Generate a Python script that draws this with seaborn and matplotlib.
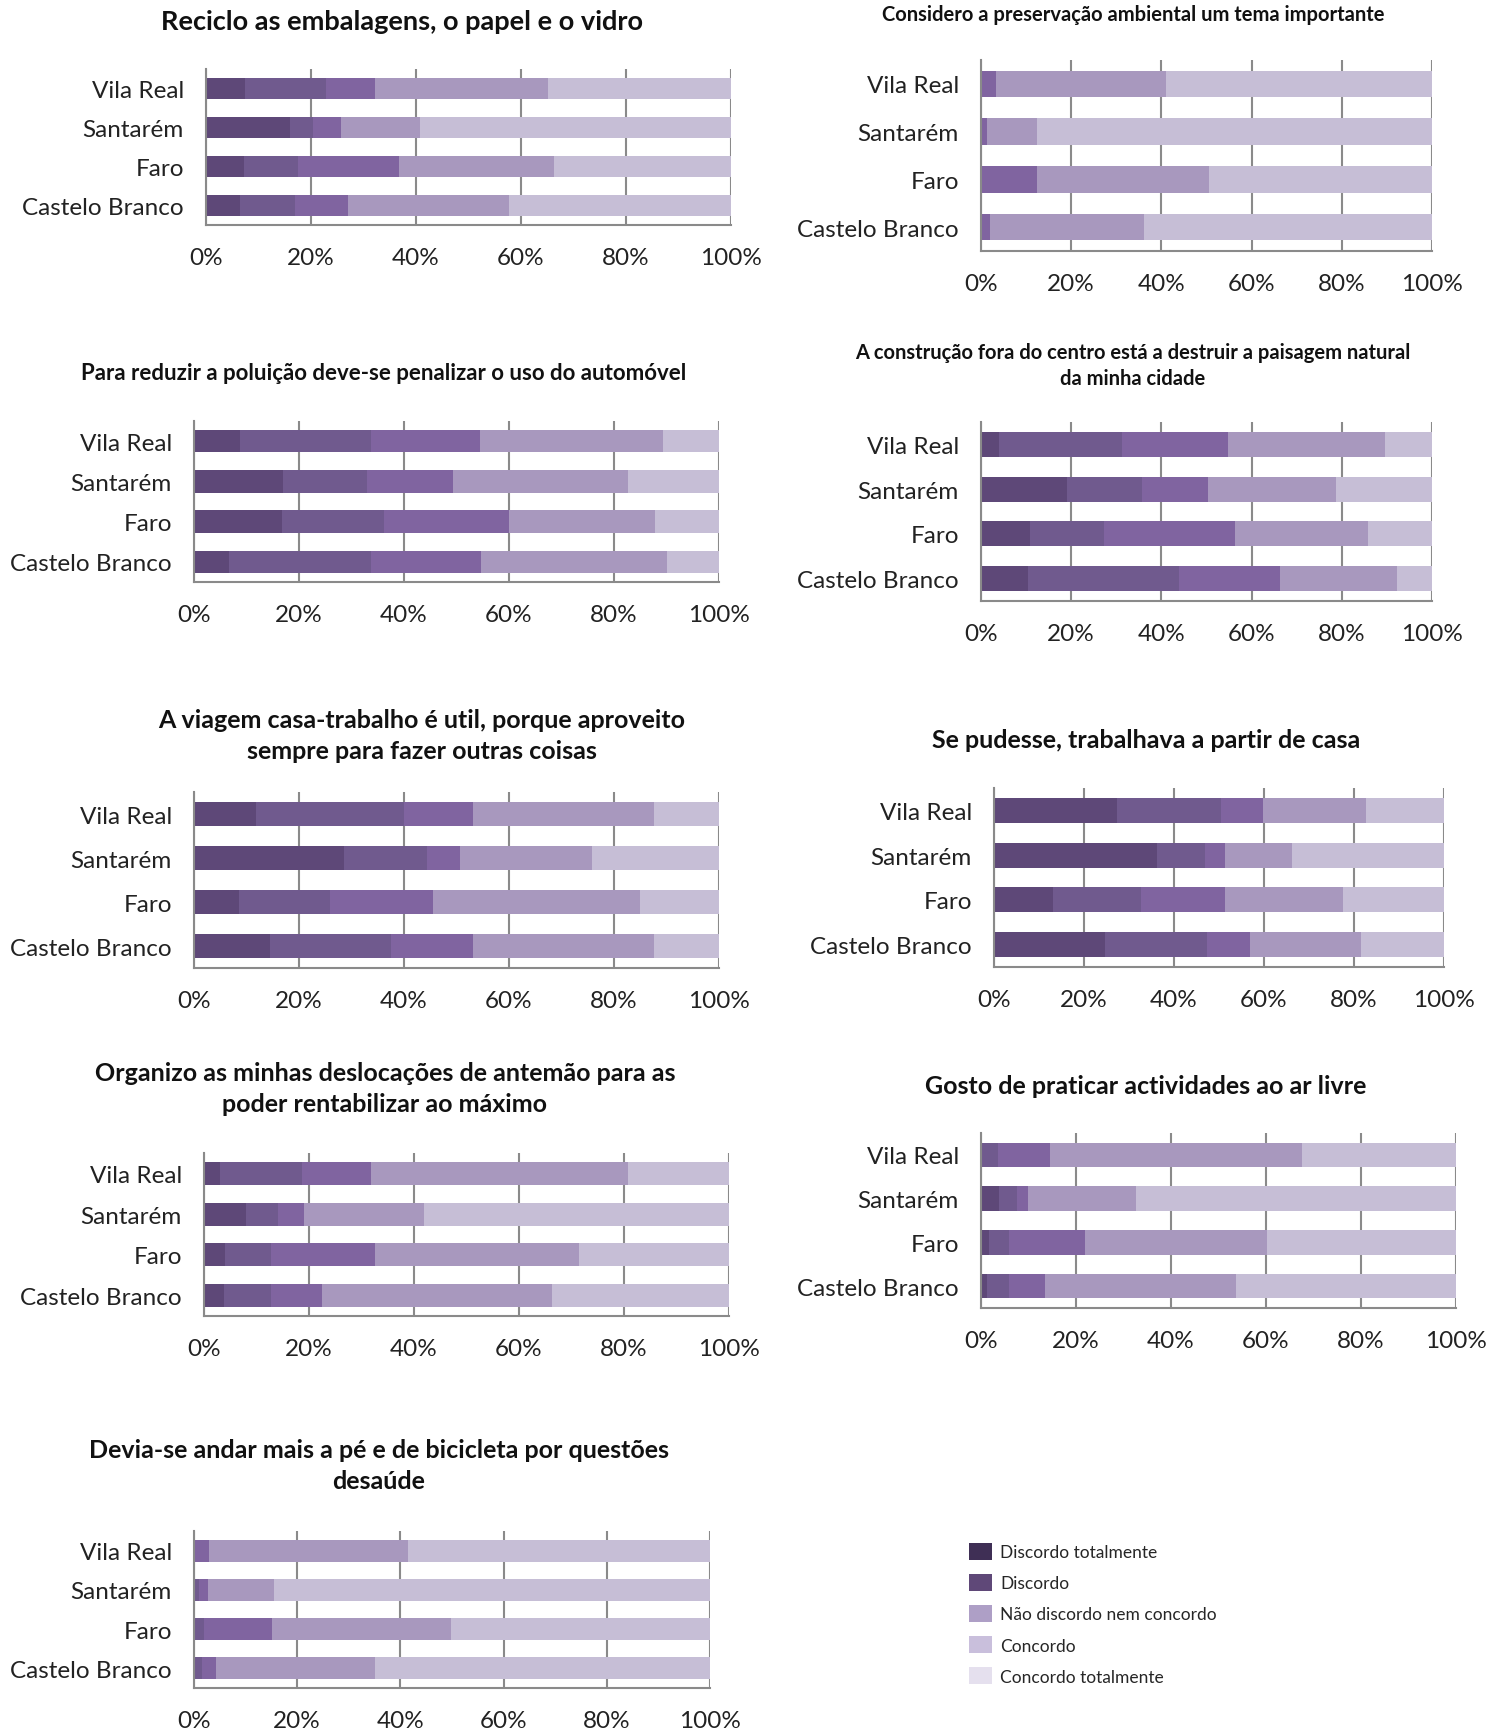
import numpy as np
import pandas as pd
import matplotlib
matplotlib.use("Agg")
import matplotlib.pyplot as plt
from matplotlib.patches import Patch
import seaborn as sns

cities = ["Vila Real", "Santarém", "Faro", "Castelo Branco"]
levels = ["Discordo totalmente", "Discordo", "Não discordo nem concordo",
          "Concordo", "Concordo totalmente"]
bar_colors = ["#5E4878", "#705A8E", "#8064A0", "#A898BE", "#C6BED6"]
legend_colors = ["#3F2F55", "#5F4878", "#AE9FC6", "#C9BFDC", "#E5E0EE"]
x_ticks = [0, 20, 40, 60, 80, 100]
x_tick_labels = ["0%", "20%", "40%", "60%", "80%", "100%"]

# Answer shares (%) per city, one column per level
reciclo = [[7.5, 15.4, 9.2, 33.0, 34.9],
           [16.0, 4.4, 5.4, 14.9, 59.3],
           [7.2, 10.4, 19.2, 29.5, 33.7],
           [6.5, 10.5, 10.0, 30.7, 42.3]]
preservacao = [[0.0, 0.0, 3.3, 37.8, 58.9],
               [0.0, 0.0, 1.4, 11.1, 87.5],
               [0.0, 0.0, 12.5, 38.1, 49.4],
               [0.0, 0.0, 2.1, 34.0, 63.9]]
automovel = [[8.8, 24.9, 20.7, 35.0, 10.6],
             [17.0, 15.9, 16.4, 33.3, 17.4],
             [16.8, 19.3, 23.9, 27.9, 12.1],
             [6.7, 27.0, 21.0, 35.4, 9.9]]
construcao = [[3.9, 27.3, 23.5, 34.8, 10.5],
              [19.0, 16.6, 14.7, 28.4, 21.3],
              [10.8, 16.4, 29.2, 29.4, 14.2],
              [10.5, 33.3, 22.6, 25.9, 7.7]]
viagem = [[11.8, 28.2, 13.2, 34.4, 12.4],
          [28.6, 15.8, 6.3, 25.2, 24.1],
          [8.5, 17.4, 19.7, 39.3, 15.1],
          [14.5, 23.1, 15.6, 34.4, 12.4]]
casa = [[27.3, 23.2, 9.3, 22.8, 17.4],
        [36.2, 10.6, 4.5, 15.0, 33.7],
        [13.2, 19.5, 18.6, 26.2, 22.5],
        [24.7, 22.6, 9.6, 24.6, 18.5]]
organizo = [[3.1, 15.6, 13.1, 49.0, 19.2],
            [8.0, 6.1, 5.0, 22.8, 58.1],
            [4.0, 8.8, 19.8, 38.9, 28.5],
            [3.8, 9.0, 9.7, 43.8, 33.7]]
ar_livre = [[0.0, 3.6, 11.0, 52.9, 32.5],
            [3.8, 3.8, 2.3, 22.8, 67.3],
            [1.6, 4.3, 15.9, 38.5, 39.7],
            [1.2, 4.6, 7.7, 40.2, 46.3]]
saude = [[0.0, 0.0, 2.9, 38.5, 58.6],
         [0.0, 0.9, 1.8, 12.9, 84.4],
         [0.0, 1.9, 13.2, 34.8, 50.1],
         [0.0, 1.5, 2.7, 30.8, 65.0]]

titles = {
    "reciclo": "Reciclo as embalagens, o papel e o vidro",
    "preservacao": "Considero a preservação ambiental um tema importante",
    "automovel": "Para reduzir a poluição deve-se penalizar o uso do automóvel",
    "construcao": "A construção fora do centro está a destruir a paisagem natural\nda minha cidade",
    "viagem": "A viagem casa-trabalho é util, porque aproveito\nsempre para fazer outras coisas",
    "casa": "Se pudesse, trabalhava a partir de casa",
    "organizo": "Organizo as minhas deslocações de antemão para as\npoder rentabilizar ao máximo",
    "ar_livre": "Gosto de praticar actividades ao ar livre",
    "saude": "Devia-se andar mais a pé e de bicicleta por questões\ndesaúde",
}

sns.set_theme(style="white")
plt.rcParams["font.family"] = ["Lato", "DejaVu Sans"]

W, H = 1496, 1731
fig = plt.figure(figsize=(W / 100, H / 100), dpi=100)

# panel layout in pixels: axes box (x0, x1, y0, y1), title centre (x, y), title size
layout = [
    ("reciclo", reciclo, (206, 731, 70, 226), (402, 22), 19.5),
    ("preservacao", preservacao, (981, 1432, 61, 252), (1133, 15), 14.5),
    ("automovel", automovel, (194, 719, 422, 583), (384, 374), 16),
    ("construcao", construcao, (981, 1432, 423, 602), (1133, 366), 14.5),
    ("viagem", viagem, (194, 719, 793, 969), (422, 736), 18),
    ("casa", casa, (994, 1444, 789, 968), (1146, 741), 18),
    ("organizo", organizo, (204, 729, 1154, 1317), (385, 1089), 18),
    ("ar_livre", ar_livre, (981, 1456, 1134, 1309), (1146, 1087), 18),
    ("saude", saude, (194, 710, 1532, 1689), (379, 1466), 18),
]

grid_grey = "#8A8A8A"

for key, shares, (x0, x1, y0, y1), (tx, ty), tsize in layout:
    ax = fig.add_axes([x0 / W, 1 - y1 / H, (x1 - x0) / W, (y1 - y0) / H])
    df = pd.DataFrame(shares, index=cities, columns=levels)
    cum = df.cumsum(axis=1)
    long = cum.reset_index().rename(columns={"index": "city"})
    # stacked bars: draw running totals from the widest down
    for k in range(len(levels) - 1, -1, -1):
        sns.barplot(data=long, x=levels[k], y="city", order=cities, orient="h",
                    color=bar_colors[k], saturation=1, width=0.56,
                    linewidth=0, errorbar=None, ax=ax)
    ax.set_xlim(0, 100)
    ax.set_ylim(3.5, -0.5)
    ax.set_xticks(x_ticks)
    ax.set_xticklabels(x_tick_labels)
    ax.set_xlabel("")
    ax.set_ylabel("")
    ax.set_axisbelow(True)
    ax.xaxis.grid(True, color=grid_grey, linewidth=1.5)
    ax.yaxis.grid(False)
    for side in ("top", "right"):
        ax.spines[side].set_visible(False)
    for side in ("left", "bottom"):
        ax.spines[side].set_color(grid_grey)
        ax.spines[side].set_linewidth(1.5)
    ax.tick_params(axis="x", length=0, pad=16, labelsize=17.5, labelcolor="#222222")
    ax.tick_params(axis="y", length=0, pad=16, labelsize=17.5, labelcolor="#222222")
    fig.text(tx / W, 1 - ty / H, titles[key], ha="center", va="center",
             fontsize=tsize, fontweight="bold", color="#111111", linespacing=1.4)

handles = [Patch(facecolor=c, edgecolor="none") for c in legend_colors]
fig.legend(handles, levels, loc="upper left", bbox_to_anchor=(962 / W, 1 - 1537 / H),
           frameon=False, fontsize=12.5, handlelength=1.3, handleheight=1.1,
           handletextpad=0.5, labelspacing=0.8, borderaxespad=0)

fig.savefig("out.png", dpi=100, facecolor="white")
